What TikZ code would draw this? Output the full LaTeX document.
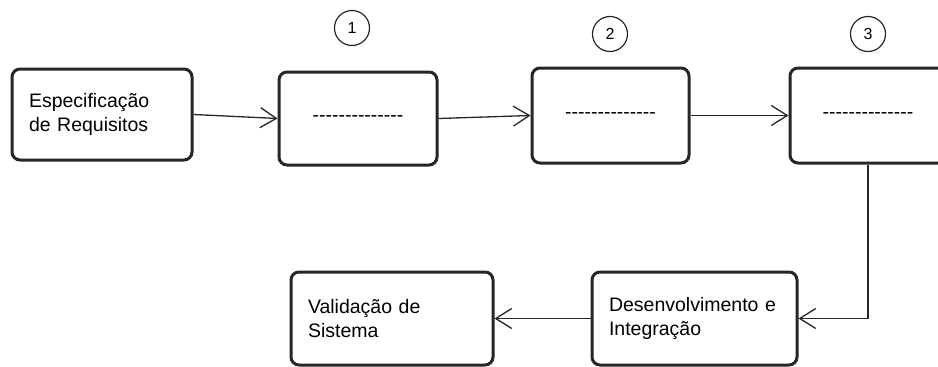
\documentclass[tikz,border=0pt]{standalone}
\usepackage{fontspec}
\setmainfont{Liberation Sans}
\usetikzlibrary{arrows.meta}
\newcommand\hy{\mbox{-}}
\newcommand\dashline{\hy\hy\hy\hy\hy\hy\hy\hy\hy\hy\hy\hy\hy\hy}
\begin{document}
\begin{tikzpicture}[x=1pt,y=-1pt,
  box/.style={draw=black!85, line width=3pt, rounded corners=8pt, fill=white,
    font=\fontsize{19.5}{23.5}\selectfont, inner xsep=17pt, inner ysep=0pt},
  num/.style={draw=black!85, circle, line width=1.2pt, minimum size=35pt, inner sep=0pt,
    font=\fontsize{16}{16}\selectfont},
  link/.style={line width=1.3pt, draw=black!85,
    -{Straight Barb[length=16pt,width=20pt,line width=1.3pt]}}
]
\useasboundingbox (0,0) rectangle (938,367);
\node[box, minimum width=180pt, minimum height=91pt, text width=146pt, align=left] (A) at (102,114.5) {Especificação\\de Requisitos};
\node[box, minimum width=158pt, minimum height=93pt, text width=124pt, align=center] (B1) at (358,118.5) {\dashline};
\node[box, minimum width=157pt, minimum height=95pt, text width=123pt, align=center] (B2) at (610.5,115.5) {\dashline};
\node[box, minimum width=156pt, minimum height=95pt, text width=122pt, align=center] (B3) at (868,115.5) {\dashline};
\node[box, minimum width=202pt, minimum height=93pt, text width=168pt, align=left] (V) at (392,318.5) {Validação de\\Sistema};
\node[box, minimum width=205pt, minimum height=93pt, text width=171pt, align=left] (D) at (694.5,318.5) {Desenvolvimento e\\Integração};
\node[num] (n1) at (352,28) {1};
\node[num] (n2) at (610,34) {2};
\node[num] (n3) at (868,34) {3};
\draw[link] (A.east) -- (B1.west);
\draw[link] (B1.east) -- (B2.west);
\draw[link] (B2.east) -- (B3.west);
\draw[link] (B3.south) |- (D.east);
\draw[link] (D.west) -- (V.east);
\end{tikzpicture}
\end{document}
